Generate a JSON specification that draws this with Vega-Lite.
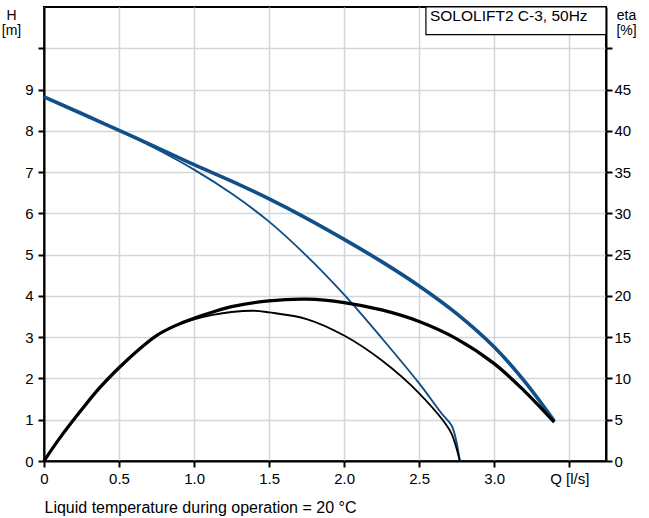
{
  "$schema": "https://vega.github.io/schema/vega-lite/v6.json",
  "width": 562,
  "height": 454,
  "autosize": {"type": "none"},
  "padding": {"left": 44, "top": 7, "right": 43, "bottom": 57},
  "config": {
    "font": "Liberation Sans",
    "view": {"stroke": "black", "strokeWidth": 2},
    "axis": {
      "domainColor": "black",
      "domainWidth": 2,
      "tickColor": "black",
      "tickWidth": 2,
      "tickSize": 6,
      "labelFontSize": 15,
      "labelColor": "black",
      "labelPadding": 4,
      "gridColor": "#d3d7db",
      "gridWidth": 1.5,
      "titleFontSize": 14,
      "titleFontWeight": "normal",
      "titleColor": "black"
    }
  },
  "datasets": {
    "H": [
      {"curve": "thick", "Q": 0, "H": 8.82},
      {"curve": "thick", "Q": 0.25, "H": 8.42},
      {"curve": "thick", "Q": 0.5, "H": 8.01},
      {"curve": "thick", "Q": 0.75, "H": 7.6},
      {"curve": "thick", "Q": 1.0, "H": 7.18},
      {"curve": "thick", "Q": 1.25, "H": 6.78},
      {"curve": "thick", "Q": 1.5, "H": 6.35},
      {"curve": "thick", "Q": 1.75, "H": 5.88},
      {"curve": "thick", "Q": 2.0, "H": 5.37},
      {"curve": "thick", "Q": 2.25, "H": 4.83},
      {"curve": "thick", "Q": 2.5, "H": 4.24},
      {"curve": "thick", "Q": 2.75, "H": 3.57},
      {"curve": "thick", "Q": 3.0, "H": 2.76},
      {"curve": "thick", "Q": 3.2, "H": 1.94},
      {"curve": "thick", "Q": 3.4, "H": 0.97},
      {"curve": "thin", "Q": 0, "H": 8.82},
      {"curve": "thin", "Q": 0.25, "H": 8.42},
      {"curve": "thin", "Q": 0.5, "H": 8.01},
      {"curve": "thin", "Q": 0.75, "H": 7.56},
      {"curve": "thin", "Q": 1.0, "H": 7.06},
      {"curve": "thin", "Q": 1.25, "H": 6.48},
      {"curve": "thin", "Q": 1.5, "H": 5.8},
      {"curve": "thin", "Q": 1.75, "H": 4.97},
      {"curve": "thin", "Q": 2.0, "H": 4.03},
      {"curve": "thin", "Q": 2.25, "H": 2.98},
      {"curve": "thin", "Q": 2.5, "H": 1.88},
      {"curve": "thin", "Q": 2.65, "H": 1.15},
      {"curve": "thin", "Q": 2.716, "H": 0.86},
      {"curve": "thin", "Q": 2.745, "H": 0.52},
      {"curve": "thin", "Q": 2.771, "H": 0}
    ],
    "eta": [
      {"curve": "thick", "Q": 0, "eta": 0},
      {"curve": "thick", "Q": 0.1, "eta": 2.65},
      {"curve": "thick", "Q": 0.25, "eta": 6.2},
      {"curve": "thick", "Q": 0.37, "eta": 8.85},
      {"curve": "thick", "Q": 0.5, "eta": 11.3},
      {"curve": "thick", "Q": 0.625, "eta": 13.4},
      {"curve": "thick", "Q": 0.75, "eta": 15.2},
      {"curve": "thick", "Q": 0.875, "eta": 16.4},
      {"curve": "thick", "Q": 1.0, "eta": 17.3},
      {"curve": "thick", "Q": 1.125, "eta": 18.05},
      {"curve": "thick", "Q": 1.25, "eta": 18.7},
      {"curve": "thick", "Q": 1.5, "eta": 19.4},
      {"curve": "thick", "Q": 1.75, "eta": 19.6},
      {"curve": "thick", "Q": 2.0, "eta": 19.2},
      {"curve": "thick", "Q": 2.25, "eta": 18.3},
      {"curve": "thick", "Q": 2.5, "eta": 16.9},
      {"curve": "thick", "Q": 2.75, "eta": 14.8},
      {"curve": "thick", "Q": 3.0, "eta": 11.8},
      {"curve": "thick", "Q": 3.2, "eta": 8.5},
      {"curve": "thick", "Q": 3.4, "eta": 4.7},
      {"curve": "thin", "Q": 0, "eta": 0},
      {"curve": "thin", "Q": 0.1, "eta": 2.65},
      {"curve": "thin", "Q": 0.25, "eta": 6.2},
      {"curve": "thin", "Q": 0.37, "eta": 8.85},
      {"curve": "thin", "Q": 0.5, "eta": 11.3},
      {"curve": "thin", "Q": 0.625, "eta": 13.4},
      {"curve": "thin", "Q": 0.75, "eta": 15.2},
      {"curve": "thin", "Q": 0.875, "eta": 16.35},
      {"curve": "thin", "Q": 1.0, "eta": 17.15},
      {"curve": "thin", "Q": 1.125, "eta": 17.7},
      {"curve": "thin", "Q": 1.25, "eta": 18.05},
      {"curve": "thin", "Q": 1.4, "eta": 18.2},
      {"curve": "thin", "Q": 1.5, "eta": 18.0},
      {"curve": "thin", "Q": 1.75, "eta": 17.2},
      {"curve": "thin", "Q": 2.0, "eta": 15.2},
      {"curve": "thin", "Q": 2.25, "eta": 12.2},
      {"curve": "thin", "Q": 2.5, "eta": 8.2},
      {"curve": "thin", "Q": 2.705, "eta": 3.7},
      {"curve": "thin", "Q": 2.738, "eta": 2.2},
      {"curve": "thin", "Q": 2.771, "eta": 0}
    ],
    "box": [
      {"label": "SOLOLIFT2 C-3, 50Hz"}
    ]
  },
  "layer": [
    {
      "data": {"name": "H"},
      "encoding": {
        "x": {
          "field": "Q",
          "type": "quantitative",
          "scale": {"domain": [0, 3.745], "nice": false, "zero": false},
          "axis": {
            "values": [0, 0.5, 1, 1.5, 2, 2.5, 3, 3.5],
            "labelExpr": "datum.value == 0 ? '0' : datum.value == 3.5 ? 'Q [l/s]' : format(datum.value, '.1f')",
            "labelFlush": false,
            "labelOverlap": false,
            "grid": true,
            "title": "Liquid temperature during operation = 20 °C",
            "titleFontSize": 16,
            "titleAnchor": "start",
            "titleAlign": "left",
            "titleBaseline": "alphabetic",
            "titleX": 0,
            "titleY": 51
          }
        },
        "y": {
          "field": "H",
          "type": "quantitative",
          "scale": {"domain": [0, 11], "nice": false, "zero": false},
          "axis": {
            "orient": "left",
            "values": [0, 1, 2, 3, 4, 5, 6, 7, 8, 9, 10],
            "labelExpr": "datum.value == 10 ? '' : datum.label",
            "grid": true,
            "labelPadding": 5,
            "title": ["H", "[m]"],
            "titleAngle": 0,
            "titleAlign": "center",
            "titleBaseline": "top",
            "titleLineHeight": 15,
            "titleX": -33,
            "titleY": 1
          }
        }
      },
      "layer": [
        {
          "transform": [{"filter": "datum.curve == 'thin'"}],
          "mark": {"type": "line", "color": "#114f88", "strokeWidth": 1.9, "interpolate": "catmull-rom"}
        },
        {
          "transform": [{"filter": "datum.curve == 'thick'"}],
          "mark": {"type": "line", "color": "#114f88", "strokeWidth": 3.6, "interpolate": "catmull-rom"}
        }
      ]
    },
    {
      "data": {"name": "eta"},
      "encoding": {
        "x": {"field": "Q", "type": "quantitative"},
        "y": {
          "field": "eta",
          "type": "quantitative",
          "scale": {"domain": [0, 55], "nice": false, "zero": false},
          "axis": {
            "orient": "right",
            "values": [0, 5, 10, 15, 20, 25, 30, 35, 40, 45, 50],
            "labelExpr": "datum.value == 50 ? '' : datum.label",
            "grid": false,
            "labelPadding": 2,
            "title": ["eta", "[%]"],
            "titleAngle": 0,
            "titleAlign": "center",
            "titleBaseline": "top",
            "titleLineHeight": 15,
            "titleX": 20,
            "titleY": 1
          }
        }
      },
      "layer": [
        {
          "transform": [{"filter": "datum.curve == 'thin'"}],
          "mark": {"type": "line", "color": "black", "strokeWidth": 1.8, "interpolate": "catmull-rom"}
        },
        {
          "transform": [{"filter": "datum.curve == 'thick'"}],
          "mark": {"type": "line", "color": "black", "strokeWidth": 3.3, "interpolate": "catmull-rom"}
        }
      ]
    },
    {
      "data": {"name": "box"},
      "layer": [
        {
          "mark": {"type": "rect", "fill": "white", "stroke": "black", "strokeWidth": 1.2},
          "encoding": {
            "x": {"datum": 2.545, "type": "quantitative"},
            "x2": {"datum": 3.745},
            "y": {"datum": 11, "type": "quantitative", "scale": {"domain": [0, 11], "nice": false}, "axis": null},
            "y2": {"datum": 10.33}
          }
        },
        {
          "mark": {"type": "text", "align": "left", "baseline": "alphabetic", "fontSize": 15.5, "color": "black"},
          "encoding": {
            "x": {"datum": 2.572, "type": "quantitative"},
            "y": {"datum": 10.65, "type": "quantitative", "axis": null},
            "text": {"field": "label"}
          }
        }
      ]
    }
  ],
  "resolve": {"scale": {"y": "independent"}, "axis": {"y": "independent"}}
}
